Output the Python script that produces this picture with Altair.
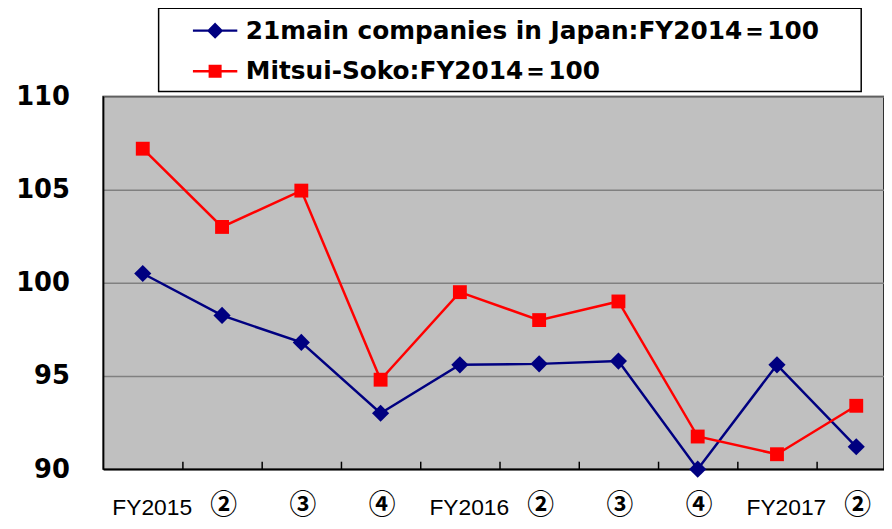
import json
import altair as alt
import pandas as pd

categories = ["FY2015", "②", "③", "④", "FY2016", "②", "③", "④", "FY2017", "②"]
series_names = ["21main companies in Japan:FY2014＝100", "Mitsui-Soko:FY2014＝100"]
japan21 = [100.5, 98.25, 96.8, 93.0, 95.6, 95.65, 95.8, 90.0, 95.6, 91.2]
mitsui = [107.2, 103.0, 104.95, 94.8, 99.5, 98.0, 99.0, 91.75, 90.8, 93.4]
colors = ["#000080", "#FF0000"]
y_ticks = [90, 95, 100, 105, 110]

rows = []
for i, c in enumerate(categories):
    rows.append({"idx": i, "cat": c, "series": series_names[0], "value": japan21[i]})
    rows.append({"idx": i, "cat": c, "series": series_names[1], "value": mitsui[i]})
df = pd.DataFrame(rows)

label_expr = json.dumps(categories, ensure_ascii=False) + "[datum.value]"
circ_test = "datum.value % 4 != 0"
x_scale = alt.Scale(domain=[-0.5, 9.35], nice=False, zero=False)
y_scale = alt.Scale(domain=[90, 110], nice=False, zero=False)

y_enc = alt.Y(
    "value:Q", scale=y_scale,
    axis=alt.Axis(values=y_ticks, title=None, grid=True, gridColor="#808080", gridWidth=1.5,
                  domain=True, domainColor="black", domainWidth=1.5, ticks=False,
                  labelFont="DejaVu Sans", labelFontWeight="bold", labelFontSize=26,
                  labelColor="black", labelPadding=34),
)

color_scale = alt.Scale(domain=series_names, range=colors)

lines = alt.Chart(df).mark_line(strokeWidth=2.5).encode(
    x=alt.X("idx:Q", scale=x_scale,
            axis=alt.Axis(values=list(range(len(categories))), labelExpr=label_expr, title=None,
                          orient="bottom", ticks=False, grid=False, domain=True,
                          domainColor="black", domainWidth=2,
                          labelFont={"condition": {"test": circ_test, "value": "Noto Sans CJK JP"},
                                     "value": "Liberation Sans"},
                          labelFontSize={"condition": {"test": circ_test, "value": 27},
                                         "value": 23},
                          labelFontWeight={"condition": {"test": circ_test, "value": "bold"},
                                           "value": "normal"},
                          labelOffset={"condition": {"test": circ_test, "value": 1},
                                       "value": 9},
                          labelPadding={"condition": {"test": circ_test, "value": 24},
                                        "value": 28},
                          labelColor="black",
                          labelAngle=0, labelOverlap=False, labelFlush=False)),
    y=y_enc,
    color=alt.Color("series:N", scale=color_scale, legend=None),
    detail="series:N",
)

points = alt.Chart(df).mark_point(filled=True, opacity=1).encode(
    x=alt.X("idx:Q", scale=x_scale, axis=None),
    y=y_enc,
    color=alt.Color("series:N", scale=color_scale, legend=None),
    shape=alt.Shape("series:N", scale=alt.Scale(domain=series_names, range=["diamond", "square"]),
                    legend=None),
    size=alt.Size("series:N", scale=alt.Scale(domain=series_names, range=[300, 196]),
                  legend=None),
)

legend_paths = [
    "M-1.6,0H1.6M0,-0.46L0.46,0L0,0.46L-0.46,0Z",
    "M-1.6,0H1.6M-0.38,-0.38H0.38V0.38H-0.38Z",
]
pad = "\u00a0" * 4 + "\u200b"
leg = alt.Legend(title=None, orient="none", legendX=56, legendY=-89,
                 symbolSize=784, symbolOffset=34.5, labelOffset=15.5, symbolStrokeWidth=2.5,
                 symbolOpacity=1,
                 labelFont="DejaVu Sans", labelFontWeight="bold", labelFontSize=25,
                 labelColor="black", labelLimit=1000, rowPadding=12,
                 labelExpr="datum.label + '" + pad + "'")

legend_layer = alt.Chart(df).transform_filter("false").mark_point(
    filled=True, opacity=1, strokeWidth=2.5).encode(
    x=alt.X("idx:Q", scale=x_scale,
            axis=alt.Axis(values=[i + 0.5 for i in range(len(categories) - 1)], orient="bottom",
                          offset=-8, tickSize=8, tickColor="black", tickWidth=1.5,
                          labels=False, domain=False, grid=False, title=None)),
    y=y_enc,
    fill=alt.Fill("series:N", scale=color_scale, legend=leg),
    stroke=alt.Stroke("series:N", scale=color_scale, legend=leg),
    shape=alt.Shape("series:N", scale=alt.Scale(domain=series_names, range=legend_paths),
                    legend=leg),
)

chart = (
    alt.layer(lines, points, legend_layer)
    .resolve_scale(shape="independent", fill="independent", stroke="independent")
    .resolve_axis(x="independent")
    .properties(width=788, height=376, background="white",
                autosize=alt.AutoSizeParams(type="none"),
                padding={"left": 96, "top": 87, "right": 0, "bottom": 50})
    .configure_view(fill="#C0C0C0", stroke="black", strokeWidth=1.5)
    .configure_legend(strokeColor="black", fillColor="white", strokeWidth=1.5, padding=7,
                      cornerRadius=0)
)

chart.save("out.html", embed_options={"renderer": "svg", "actions": False})
